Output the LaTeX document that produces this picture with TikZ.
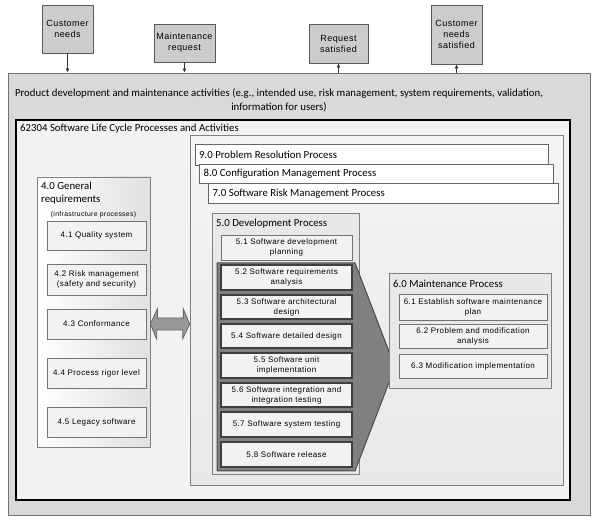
\documentclass[tikz,border=0pt]{standalone}
\usepackage{fontspec}
\setmainfont{Carlito}
\newfontfamily\arialf[LetterSpace=5]{Liberation Sans}
\usetikzlibrary{arrows.meta,shadows}
\begin{document}
\begin{tikzpicture}[x=1pt,y=-1pt,
  topbox/.style={draw=black!65, fill=black!20, line width=0.8pt, align=center,
    font=\arialf\fontsize{9}{11}\selectfont, inner sep=1pt},
  sub/.style={draw=black!55, fill=black!5, line width=0.8pt, align=center,
    font=\arialf\fontsize{8}{10}\selectfont, inner sep=1pt},
  devsub/.style={sub, draw=black!75, line width=1.4pt},
  container/.style={draw=black!50, line width=0.7pt, inner sep=0pt},
  procbar/.style={draw=black!60, line width=0.7pt, fill=white, inner sep=0pt,
    drop shadow={shadow xshift=1.2pt, shadow yshift=-1.2pt, opacity=0.6}},
  head/.style={font=\fontsize{10.8}{12}\selectfont, inner sep=0pt, anchor=west},
  flow/.style={-{Latex[length=4pt,width=4pt]}, draw=black!80, line width=0.7pt}
]
\useasboundingbox (0,0) rectangle (595,526);
\fill[white] (0,0) rectangle (595,526);

% top boxes
\node[topbox, minimum width=51pt, minimum height=48pt] (cn) at (67.5,29) {Customer\\needs};
\node[topbox, minimum width=61pt, minimum height=38pt] (mr) at (184.5,43) {Maintenance\\request};
\node[topbox, minimum width=59pt, minimum height=39pt] (rs) at (338.5,43.5) {Request\\satisfied};
\node[topbox, minimum width=51pt, minimum height=59pt] (cns) at (456.5,34.5) {Customer\\needs\\satisfied};

% outer box
\node[draw=black!55, fill=black!15, line width=0.9pt, minimum width=582pt, minimum height=442pt, inner sep=0pt] (outer) at (299,294) {};
\node[align=center, font=\fontsize{10.8}{14}\selectfont, inner sep=0pt] (outerlbl) at (279,100)
  {Product development and maintenance activities (e.g., intended use, risk management, system requirements, validation,\\information for users)};

\draw[flow] (cn.south) -- (cn.south |- outer.north);
\draw[flow] (mr.south) -- (mr.south |- outer.north);
\draw[flow] (rs.south |- outer.north) -- (rs.south);
\draw[flow] (cns.south |- outer.north) -- (cns.south);

% 62304 box
\node[draw=black, line width=2.6pt, fill=black!5, minimum width=554pt, minimum height=380pt, inner sep=0pt] (life) at (293,310) {};
\node[head] (lifelbl) at (20,128.5) {62304 Software Life Cycle Processes and Activities};

% right container
\node[container, top color=black!4, bottom color=black!9, minimum width=373pt, minimum height=350pt] (right) at (376.5,310) {};

\node[procbar, minimum width=353pt, minimum height=21pt] (p9) at (371.5,154.5) {};
\node[head] (p9lbl) at (199,155) {9.0 Problem Resolution Process};
\node[procbar, minimum width=354pt, minimum height=19pt] (p8) at (376,173.5) {};
\node[head] (p8lbl) at (203.5,174) {8.0 Configuration Management Process};
\node[procbar, minimum width=350pt, minimum height=20pt] (p7) at (383,193) {};
\node[head] (p7lbl) at (212.5,193.5) {7.0 Software Risk Management Process};

% 5.0 development
\node[container, fill=black!9, minimum width=147pt, minimum height=261pt,
  drop shadow={shadow xshift=1pt, shadow yshift=-1pt, opacity=0.4}] (dev) at (285.5,343.5) {};
\node[head] (devlbl) at (216,224) {5.0 Development Process};
\node[sub, minimum width=131pt, minimum height=25pt] (s51) at (286.5,247.5) {5.1 Software development\\planning};

\draw[draw=black!70, fill=black!50, line width=1pt] (217,263) -- (355,263) -- (395,367) -- (355,471) -- (217,471) -- cycle;

\node[devsub, minimum width=131pt, minimum height=25pt] (s52) at (286.5,277.5) {5.2 Software requirements\\analysis};
\node[devsub, minimum width=131pt, minimum height=24pt] (s53) at (286.5,307) {5.3 Software architectural\\design};
\node[devsub, minimum width=131pt, minimum height=24pt] (s54) at (286.5,336) {5.4 Software detailed design};
\node[devsub, minimum width=131pt, minimum height=25pt] (s55) at (286.5,365.5) {5.5 Software unit\\implementation};
\node[devsub, minimum width=131pt, minimum height=24pt] (s56) at (286.5,395) {5.6 Software integration and\\integration testing};
\node[devsub, minimum width=131pt, minimum height=25pt] (s57) at (286.5,424.5) {5.7 Software system testing};
\node[devsub, minimum width=131pt, minimum height=25pt] (s58) at (286.5,454.5) {5.8 Software release};

% 6.0 maintenance
\node[container, fill=black!9, minimum width=162pt, minimum height=115pt,
  drop shadow={shadow xshift=1pt, shadow yshift=-1pt, opacity=0.4}] (maint) at (470,330.5) {};
\node[head] (maintlbl) at (393,283.5) {6.0 Maintenance Process};
\node[sub, minimum width=148pt, minimum height=26pt] (s61) at (473,307) {6.1 Establish software maintenance\\plan};
\node[sub, minimum width=148pt, minimum height=24pt] (s62) at (473,336) {6.2 Problem and modification\\analysis};
\node[sub, minimum width=148pt, minimum height=24pt] (s63) at (473,366) {6.3 Modification implementation};

% 4.0 general requirements
\node[container, left color=white, right color=black!12, minimum width=113pt, minimum height=270pt,
  drop shadow={shadow xshift=1pt, shadow yshift=-1pt, opacity=0.4}] (gen) at (93.5,312) {};
\node[head, align=left, font=\fontsize{10.8}{13}\selectfont] (genlbl) at (41,193.5) {4.0 General\\requirements};
\node[font=\arialf\fontsize{6.8}{7}\selectfont, inner sep=0pt] (genlbl2) at (93.5,215) {(infrastructure processes)};
\node[sub, minimum width=99pt, minimum height=29pt] (s41) at (96.5,235.5) {4.1 Quality system};
\node[sub, minimum width=99pt, minimum height=31pt] (s42) at (96.5,279.5) {4.2 Risk management\\(safety and security)};
\node[sub, minimum width=99pt, minimum height=30pt] (s43) at (96.5,324) {4.3 Conformance};
\node[sub, minimum width=99pt, minimum height=30pt] (s44) at (96.5,373) {4.4 Process rigor level};
\node[sub, minimum width=99pt, minimum height=30pt] (s45) at (96.5,422) {4.5 Legacy software};

% double arrow between 4.0 and the process container
\coordinate (dal) at (gen.east |- s43.center);
\coordinate (dar) at (right.west |- s43.center);
\draw[draw=black!60, fill=black!40, line width=0.8pt]
  (dal) -- ++(7,-15) -- ++(0,9) -- ++(26,0) -- ++(0,-9) -- (dar)
  -- ++(-7,15) -- ++(0,-9) -- ++(-26,0) -- ++(0,9) -- cycle;
\end{tikzpicture}
\end{document}
